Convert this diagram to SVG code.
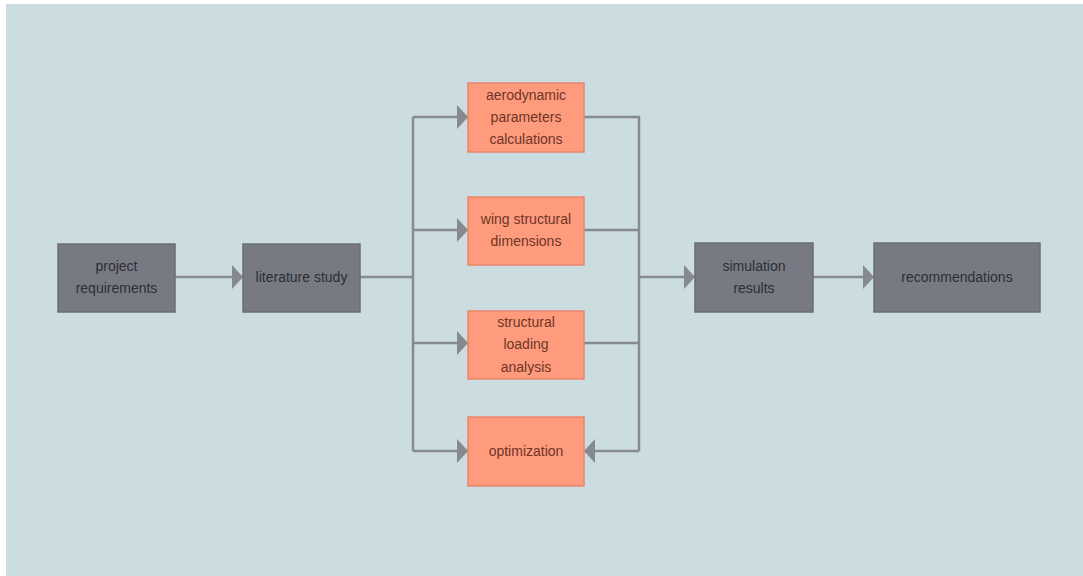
<svg xmlns="http://www.w3.org/2000/svg" width="1083" height="576" viewBox="0 0 1083 576">
  <defs>
    <marker id="arr" markerUnits="userSpaceOnUse" markerWidth="12" markerHeight="24" refX="11" refY="12" orient="auto">
      <path d="M0,0 L11,12 L0,24 Z" fill="#848a8e"/>
    </marker>
    <style>
      .conn { fill: none; stroke: #868b8f; stroke-width: 2.5; }
      .gray rect { fill: #787a83; stroke: #6b6d75; stroke-width: 1.5; }
      .orange rect { fill: #ff9b7d; stroke: #e9856b; stroke-width: 1.5; }
      text { font-family: "Liberation Sans", Arial, sans-serif; font-size: 14px; text-anchor: middle; dominant-baseline: central; }
      .gray text { fill: #2c2e33; }
      .orange text { fill: #6e3526; }
    </style>
  </defs>
  <rect x="0" y="0" width="1083" height="576" fill="#ffffff"/>
  <rect x="6" y="4" width="1077" height="572" fill="#cbdde0"/>

  <g id="connectors">
    <path class="conn" d="M175,277 H243" marker-end="url(#arr)"/>
    <path class="conn" d="M360,277 H413"/>
    <path class="conn" d="M413,117 V451"/>
    <path class="conn" d="M413,117 H468" marker-end="url(#arr)"/>
    <path class="conn" d="M413,230 H468" marker-end="url(#arr)"/>
    <path class="conn" d="M413,343 H468" marker-end="url(#arr)"/>
    <path class="conn" d="M413,451 H468" marker-end="url(#arr)"/>
    <path class="conn" d="M584,117 H639 V451"/>
    <path class="conn" d="M584,230 H639"/>
    <path class="conn" d="M584,343 H639"/>
    <path class="conn" d="M639,451 H584" marker-end="url(#arr)"/>
    <path class="conn" d="M639,277 H695" marker-end="url(#arr)"/>
    <path class="conn" d="M813,277 H874" marker-end="url(#arr)"/>
  </g>

  <g id="project-requirements" class="gray">
    <rect x="58" y="244" width="117" height="68"/>
    <text x="116.5" y="266">project</text>
    <text x="116.5" y="288">requirements</text>
  </g>
  <g id="literature-study" class="gray">
    <rect x="243" y="244" width="117" height="68"/>
    <text x="301.5" y="277">literature study</text>
  </g>
  <g id="aerodynamic" class="orange">
    <rect x="468" y="83" width="116" height="69"/>
    <text x="526" y="95">aerodynamic</text>
    <text x="526" y="117">parameters</text>
    <text x="526" y="139">calculations</text>
  </g>
  <g id="wing-structural" class="orange">
    <rect x="468" y="197" width="116" height="68"/>
    <text x="526" y="219">wing structural</text>
    <text x="526" y="241">dimensions</text>
  </g>
  <g id="structural-loading" class="orange">
    <rect x="468" y="311" width="116" height="68"/>
    <text x="526" y="322">structural</text>
    <text x="526" y="344">loading</text>
    <text x="526" y="367">analysis</text>
  </g>
  <g id="optimization" class="orange">
    <rect x="468" y="417" width="116" height="69"/>
    <text x="526" y="451">optimization</text>
  </g>
  <g id="simulation-results" class="gray">
    <rect x="695" y="243" width="118" height="69"/>
    <text x="754" y="266">simulation</text>
    <text x="754" y="288">results</text>
  </g>
  <g id="recommendations" class="gray">
    <rect x="874" y="243" width="166" height="69"/>
    <text x="957" y="277">recommendations</text>
  </g>
</svg>
